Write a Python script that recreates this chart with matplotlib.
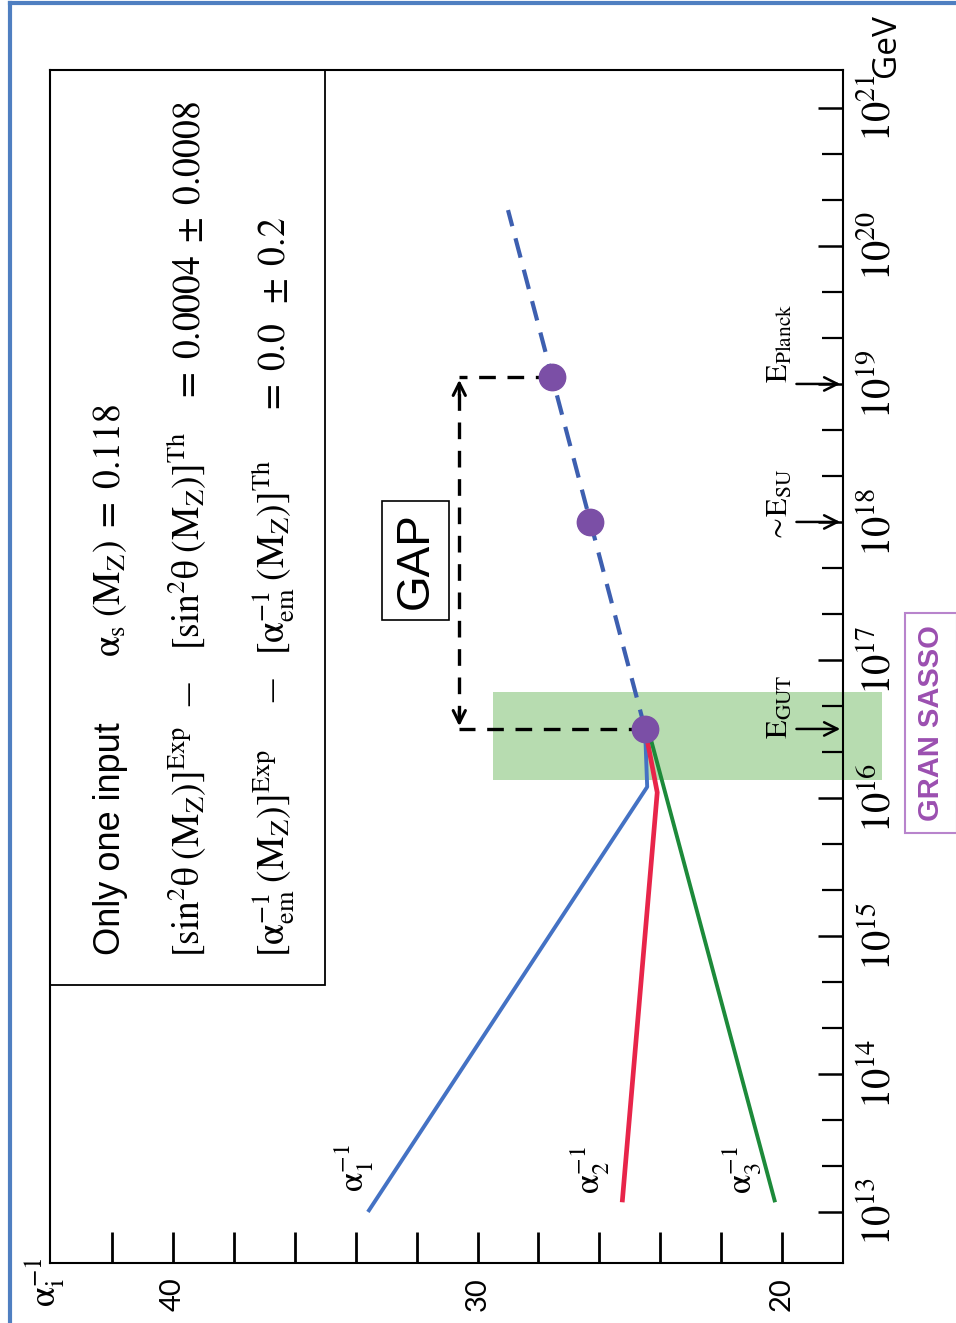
import numpy as np
import matplotlib.pyplot as plt
from matplotlib.lines import Line2D
from matplotlib.patches import Rectangle

plt.rcParams['font.family'] = 'Liberation Sans'
plt.rcParams['mathtext.fontset'] = 'stix'

# inverse gauge couplings, running vs log10(E / GeV)
logE_a1 = [13.0, 16.08, 16.5]
inv_a1 = [33.6, 24.43, 24.5]
logE_a2 = [13.07, 16.04, 16.5]
inv_a2 = [25.25, 24.1, 24.5]
logE_a3 = [13.07, 16.5]
inv_a3 = [20.23, 24.4]

# single coupling above the unification point
logE_ext = [16.5, 20.26]
inv_ext = [24.5, 29.0]

# E_GUT, E_SU, E_Planck
logE_pts = [16.5, 18.0, 19.05]
inv_pts = [24.5, 26.3, 27.55]
logE_marks = [16.5, 18.0, 19.0]
mark_labels = [r'$\mathrm{E}_{\mathrm{GUT}}$', r'$\sim\!\mathrm{E}_{\mathrm{SU}}$',
               r'$\mathrm{E}_{\mathrm{Planck}}$']
mark_label_start = [16.43, 17.85, 19.01]

band_logE = [16.13, 16.77]
band_inv = [16.72, 29.5]

energy_decades = list(range(13, 22))
inv_major = [20, 30, 40]
inv_minor = [22, 24, 26, 28, 32, 34, 36, 38, 42]

E = lambda v: 10.0 ** np.asarray(v)

fig = plt.figure(figsize=(9.56, 13.23), dpi=100)
ax = fig.add_axes([50 / 956, 60 / 1323, 793 / 956, 1193 / 1323])
ax.set_yscale('log')
ax.set_xlim(44.04, 18.0)
ax.set_ylim(E(12.63), E(21.275))

# Gran Sasso window around E_GUT
band = ax.fill_betweenx(E(band_logE), band_inv[0], band_inv[1], color='#b7dcb0', lw=0, zorder=0.5)
band.set_clip_on(False)

ax.plot(inv_a1, E(logE_a1), color='#4472c4', lw=2.8, solid_capstyle='butt')
ax.plot(inv_a2, E(logE_a2), color='#e8254a', lw=3.4, solid_capstyle='butt')
ax.plot(inv_a3, E(logE_a3), color='#1d8a3a', lw=2.8, solid_capstyle='butt')
ax.plot(inv_ext, E(logE_ext), color='#3d5fb0', lw=3.0, dashes=(4.8, 3.0))
ax.plot(inv_pts, E(logE_pts), 'o', color='#7b4fa6', ms=19, zorder=4)

# the gap between E_GUT and E_Planck
x_gap = 30.6
ax.plot([inv_pts[0], x_gap], E([logE_pts[0]] * 2), color='black', lw=2.4, dashes=(5, 3.5), zorder=3)
ax.plot([inv_pts[2], x_gap], E([logE_pts[2]] * 2), color='black', lw=2.4, dashes=(5, 3.5), zorder=3)
ax.plot([x_gap, x_gap], E([logE_pts[0] + 0.05, logE_pts[2] - 0.05]), color='black', lw=2.4,
        dashes=(5, 3.5), zorder=3)
for lo, hi in [(logE_pts[2] - 0.15, logE_pts[2]), (logE_pts[0] + 0.15, logE_pts[0])]:
    ax.annotate('', xy=(x_gap, E(hi)), xytext=(x_gap, E(lo)),
                arrowprops=dict(arrowstyle='->', lw=2.2, color='black', mutation_scale=22))
ax.text(32.03, E(17.72), 'GAP', rotation=90, ha='center', va='center', fontsize=33,
        bbox=dict(boxstyle='square,pad=0.25', fc='white', ec='black', lw=1.2))

# scale markers on the energy axis
for lab, m, s in zip(mark_labels, logE_marks, mark_label_start):
    ax.annotate('', xy=(18.0, E(m)), xytext=(19.62, E(m)),
                arrowprops=dict(arrowstyle='->', lw=1.8, color='black', mutation_scale=24),
                annotation_clip=False)
    ax.text(19.8, E(s), lab, rotation=90, rotation_mode='anchor', ha='left',
            va='baseline', fontsize=22)

ax.text(34.05, E(13.32), r'$\mathrm{\alpha}_1^{-1}$', rotation=90, ha='center', va='center', fontsize=25)
ax.text(26.3, E(13.3), r'$\mathrm{\alpha}_2^{-1}$', rotation=90, ha='center', va='center', fontsize=25)
ax.text(21.3, E(13.3), r'$\mathrm{\alpha}_3^{-1}$', rotation=90, ha='center', va='center', fontsize=25)

# input box
ax.add_patch(Rectangle((0, 0.233), 0.347, 0.767, transform=ax.transAxes, fill=False,
                       ec='black', lw=1.3, clip_on=False))
box_text = [
    (0.088, 0.258, 'Only one input', 26),
    (0.088, 0.508, r'$\mathrm{\alpha}_\mathrm{s}\;(\mathrm{M}_\mathrm{Z})\;=\;0.118$', 27),
    (0.189, 0.2565, r'$[\sin^2\!\mathrm{\theta}\;(\mathrm{M}_\mathrm{Z})]^{\mathrm{Exp}}$', 27),
    (0.189, 0.5138, r'$[\sin^2\!\mathrm{\theta}\;(\mathrm{M}_\mathrm{Z})]^{\mathrm{Th}}$', 27),
    (0.189, 0.7209, r'$=\;0.0004\;\pm\;0.0008$', 27),
    (0.296, 0.2565, r'$[\mathrm{\alpha}_{\mathrm{em}}^{-1}\;(\mathrm{M}_\mathrm{Z})]^{\mathrm{Exp}}$', 27),
    (0.296, 0.5096, r'$[\mathrm{\alpha}_{\mathrm{em}}^{-1}\;(\mathrm{M}_\mathrm{Z})]^{\mathrm{Th}}$', 27),
    (0.296, 0.7108, r'$=\;0.0\;\;\pm\;0.2$', 27),
]
for x, y, s, fs in box_text:
    ax.text(x, y, s, transform=ax.transAxes, rotation=90, rotation_mode='anchor',
            ha='left', va='baseline', fontsize=fs)
for x, y in [(0.189, 0.476), (0.296, 0.480)]:
    ax.text(x, y, '\u2013', transform=ax.transAxes, rotation=90, rotation_mode='anchor',
            ha='center', va='baseline', fontsize=32, family='Liberation Serif')

# axes and ticks
for sp in ax.spines.values():
    sp.set_linewidth(1.5)
ax.yaxis.tick_right()
ax.set_yticks(E(energy_decades))
ax.set_yticklabels([rf'$10^{{{n}}}$' for n in energy_decades])
ax.set_yticks(E([n + f for n in energy_decades[:-1] for f in (1 / 3, 2 / 3)]), minor=True)
ax.yaxis.set_minor_formatter(plt.NullFormatter())
ax.tick_params(axis='y', which='major', direction='in', length=18, width=1.8, pad=12, labelsize=29)
ax.tick_params(axis='y', which='minor', direction='in', length=15, width=1.6)
for t in ax.get_yticklabels():
    t.set_rotation(90)
    t.set_va('center')

ax.set_xticks(inv_major)
ax.set_xticks(inv_minor, minor=True)
ax.tick_params(axis='x', which='both', direction='in', length=22, width=2, pad=10)
ax.tick_params(axis='x', which='major', labelsize=21)
for t in ax.get_xticklabels():
    t.set_rotation(90)
    t.set_family('Lato')

ax.text(1.066, 0.994, 'GeV', transform=ax.transAxes, rotation=90, rotation_mode='anchor',
        ha='left', va='baseline', fontsize=24, family='Open Sans')
fig.text(45 / 956, 1 - 1282 / 1323, r'$\mathrm{\alpha}_\mathrm{i}^{-1}$', rotation=90, ha='center',
         va='center', fontsize=26)

fig.text(931 / 956, 1 - 723 / 1323, 'GRAN SASSO', rotation=90, ha='center', va='center',
         fontsize=21, fontweight='bold', color='#9b4fb0',
         bbox=dict(boxstyle='square,pad=0.4', fc='none', ec='#b884cc', lw=1.5))

# page frame
fig.add_artist(Line2D([9.5 / 956, 9.5 / 956], [0, 1 - 3 / 1323], color='#4f7fc1', lw=3))
fig.add_artist(Line2D([9.5 / 956, 1], [1 - 3 / 1323, 1 - 3 / 1323], color='#4f7fc1', lw=3))

fig.savefig('out.png', dpi=100)
